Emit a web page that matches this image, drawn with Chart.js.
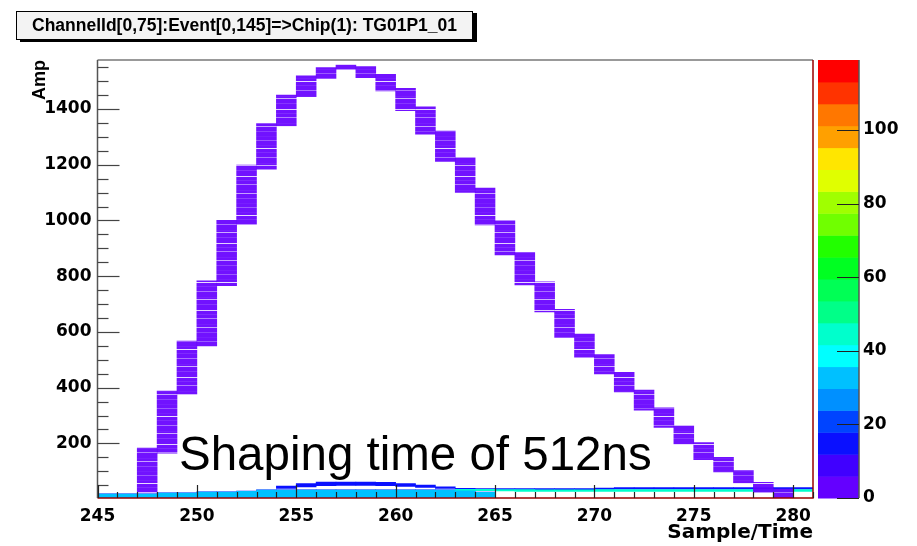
<!DOCTYPE html>
<html><head><meta charset="utf-8">
<script src="https://cdn.jsdelivr.net/npm/chart.js@4/dist/chart.umd.min.js"></script>
<style>
html,body{margin:0;padding:0;background:#fff;}
#wrap{position:relative;width:917px;height:546px;overflow:hidden;}
#title{position:absolute;left:16px;top:11px;width:455px;height:27px;border:1px solid #000;background:#f3f3f3;box-shadow:4px 2px 0 #000;font:bold 17.5px "Liberation Sans",Arial,sans-serif;text-align:center;line-height:27px;color:#000;white-space:nowrap;}
#note{position:absolute;left:179px;top:431px;font:47.5px "Liberation Sans",Arial,sans-serif;line-height:46px;color:#000;white-space:nowrap;}
</style></head>
<body><div id="wrap"><canvas id="c" width="917" height="546"></canvas>
<div id="title">ChannelId[0,75]:Event[0,145]=&gt;Chip(1): TG01P1_01</div>
<div id="note">Shaping time of 512ns</div></div>
<script>
// ---- data ----
const xBins = [245,246,247,248,249,250,251,252,253,254,255,256,257,258,259,260,261,262,263,264,265,266,267,268,269,270,271,272,273,274,275,276,277,278,279,280];
// signal channel band (amplitude range over events) per sample
const sigLo = [null,null,25,165,376,550,766,986,1184,1339,1444,1510,1543,1513,1465,1394,1310,1212,1101,984,876,769,672,580,509,449,385,319,257,196,142,98,56,24,4,null];
const sigHi = [null,null,183,388,567,783,1001,1199,1348,1450,1519,1549,1558,1552,1525,1474,1408,1321,1226,1116,999,885,780,681,592,519,455,391,328,263,203,150,102,60,36,null];
const sigCount = 2;
// baseline (other channels) layers
const lowLo  = [4,4,4,4,4,4,4,4,4,4,4,4,4,4,4,4,4,4,4,6,null,null,null,null,null,null,null,null,null,null,null,null,null,null,null,null];
const lowHi  = [18,18,18,22,22,25,25,28,32,32,32,32,32,32,32,32,32,32,30,24,null,null,null,null,null,null,null,null,null,null,null,null,null,null,null,null];
const lowCount = 30;
const cyanLo = [7,7,7,8,8,9,9,10,10,12,12,14,14,14,14,14,14,14,30,30,29,28,28,28,28,28,28,28,28,28,28,28,28,28,28,28];
const cyanHi = [12,12,12,13,13,14,14,15,16,18,18,20,20,20,20,20,20,20,35,35,34,34,33,33,33,34,34,34,34,34,34,34,34,34,34,34];
const cyanCount = 44;
const greenLo = [11,11,11,11,11,12,12,13,13,14,14,16,16,16,16,16,16,16,null,null,null,null,null,null,null,null,null,null,null,null,null,null,null,null,null,null];
const greenHi = [13,13,13,13,13,14,14,15,15,16,16,18,18,18,18,18,18,18,null,null,null,null,null,null,null,null,null,null,null,null,null,null,null,null,null,null];
const greenCount = 62;
const topLo = [16,16,16,20,20,23,23,26,29,29,29,29,29,29,29,29,29,29,27,20,null,null,null,null,null,null,null,null,null,null,null,null,null,null,null,null];
const topHi = [19,19,19,23,23,26,26,29,33,33,33,33,33,33,33,33,33,33,31,25,null,null,null,null,null,null,null,null,null,null,null,null,null,null,null,null];
const topCount = 14;
const upLo = [null,null,null,null,null,null,null,null,null,38,44,48,49,49,48,46,42,38,35,35,34,34,34,34,34,35,36,36,36,36,36,36,36,36,36,36];
const upHi = [null,null,null,null,null,null,null,null,null,47,56,61,61,61,60,56,50,44,39,38,38,38,38,38,38,40,41,41,41,41,41,41,41,41,41,41];
const upCount = 12;
const upCyanLo = [null,null,null,null,null,null,null,null,null,null,49,52,52,52,52,50,46,null,null,null,null,null,null,null,null,null,null,null,null,null,null,null,null,null,null,null];
const upCyanHi = [null,null,null,null,null,null,null,null,null,null,52,56,56,56,56,53,48,null,null,null,null,null,null,null,null,null,null,null,null,null,null,null,null,null,null,null];
const upCyanCount = 40;

const xMin = 245, xMax = 281;
const yMin = 4, yMax = 1576;
const zMin = 0, zMax = 119;
const xTicks = [245,250,255,260,265,270,275,280];
const yTicks = [200,400,600,800,1000,1200,1400];
const zTicks = [0,20,40,60,80,100];

// ---- styles ----
const palette = ['#6400ff','#4000ff','#0a10ff','#0044ff','#0090ff','#00c0ff','#00ffff','#00ffcc','#00ff88','#00ff55','#00ff22','#22ff00','#70ff00','#a0ff00','#e0ff00','#ffe600','#ffa000','#ff7700','#ff3300','#ff0000'];
function colorFor(count){ const n = palette.length; let k = Math.floor((count - zMin) / (zMax - zMin) * n); return palette[Math.max(0, Math.min(n - 1, k))]; }

function stripePattern(){
  const alphas = [1,1,0.95,1,1,1,0.7,1,1,1,1,0.95,1,1,0.15,1,1,1,0.9,1,1,1,1,0.6,1,1,1,1,1,0.95,1,0.35,1,1,1,1,0.85,1,1,1,1,1,0.2,1,1,1,0.9,1,1,1,0.55,1,1,1,1,1,0.95,1,1,0.4,1,1,1,1,0.8,1,1];
  const c = document.createElement('canvas'); c.width = 4; c.height = alphas.length;
  const g = c.getContext('2d');
  alphas.forEach((a, i) => { g.fillStyle = 'rgba(102,0,255,' + (a * 0.93) + ')'; g.fillRect(0, i, 4, 1); });
  return g.createPattern(c, 'repeat');
}

function band(lo, hi){
  const out = [];
  xBins.forEach((b, i) => { if (lo[i] != null && hi[i] != null) out.push({x: b + 0.5, y: [lo[i], hi[i]]}); });
  return out;
}

const ds = (label, lo, hi, count, bg) => ({
  label, data: band(lo, hi), backgroundColor: bg || colorFor(count), borderWidth: 0,
  grouped: false, barPercentage: 1, categoryPercentage: 1
});

const frame = {
  id: 'frame',
  afterDraw(chart){
    const ctx = chart.ctx, a = chart.chartArea, x = chart.scales.x, y = chart.scales.y, z = chart.scales.z;
    ctx.save();
    // palette bar
    const pl = 818, pr = 859, n = palette.length;
    for (let i = 0; i < n; i++){
      const v0 = zMin + (zMax - zMin) * i / n, v1 = zMin + (zMax - zMin) * (i + 1) / n;
      const p0 = z.getPixelForValue(v0), p1 = z.getPixelForValue(v1);
      ctx.fillStyle = palette[i]; ctx.fillRect(pl, p1, pr - pl, p0 - p1 + 0.5);
    }
    ctx.strokeStyle = '#555'; ctx.lineWidth = 1.5;
    ctx.beginPath(); ctx.moveTo(pr, a.top); ctx.lineTo(pr, a.bottom); ctx.stroke();
    ctx.strokeStyle = '#222'; ctx.lineWidth = 1;
    zTicks.forEach(v => { const p = Math.round(z.getPixelForValue(v)) + 0.5; ctx.beginPath(); ctx.moveTo(pr, p); ctx.lineTo(pr - 22, p); ctx.stroke(); });
    // frame
    ctx.lineWidth = 1.5;
    ctx.strokeStyle = '#777';
    ctx.beginPath(); ctx.moveTo(a.left, a.top); ctx.lineTo(a.right, a.top); ctx.stroke();
    ctx.strokeStyle = '#990000';
    ctx.beginPath(); ctx.moveTo(a.right, a.top); ctx.lineTo(a.right, a.bottom); ctx.lineTo(a.left, a.bottom); ctx.stroke();
    ctx.strokeStyle = '#555';
    ctx.beginPath(); ctx.moveTo(a.left, a.top); ctx.lineTo(a.left, a.bottom); ctx.stroke();
    // y ticks
    ctx.lineWidth = 1.2; ctx.strokeStyle = '#444';
    for (let v = 50; v < yMax; v += 50){
      if (v < yMin) continue;
      const p = Math.round(y.getPixelForValue(v)) + 0.5, len = (v % 200 === 0) ? 22 : 11;
      ctx.beginPath(); ctx.moveTo(a.left, p); ctx.lineTo(a.left + len, p); ctx.stroke();
    }
    // x ticks
    ctx.strokeStyle = '#222';
    for (let v = xMin; v <= xMax; v += 1){
      const p = Math.round(x.getPixelForValue(v)) + 0.5, len = (v % 5 === 0) ? 13 : 6;
      ctx.beginPath(); ctx.moveTo(p, a.bottom); ctx.lineTo(p, a.bottom - len); ctx.stroke();
    }
    ctx.restore();
  }
};

const tickFont = {family: '"DejaVu Sans", sans-serif', weight: 'bold', size: 17};
const plain = v => String(v);
const noPad = s => { s.paddingTop = 0; s.paddingBottom = 0; s.paddingLeft = 0; s.paddingRight = 0; };

new Chart(document.getElementById('c'), {
  type: 'bar',
  data: { datasets: [
    ds('signal', sigLo, sigHi, sigCount, stripePattern()),
    ds('baseline low', lowLo, lowHi, lowCount),
    ds('baseline cyan', cyanLo, cyanHi, cyanCount),
    ds('baseline green', greenLo, greenHi, greenCount),
    ds('baseline top', topLo, topHi, topCount),
    ds('crosstalk', upLo, upHi, upCount),
    ds('crosstalk cyan', upCyanLo, upCyanHi, upCyanCount)
  ]},
  options: {
    responsive: false, animation: false, devicePixelRatio: 1,
    layout: { autoPadding: false, padding: { top: 60, left: 0, right: 0, bottom: 0 } },
    plugins: { legend: { display: false }, tooltip: { enabled: false }, title: { display: false } },
    scales: {
      x: { type: 'linear', min: xMin, max: xMax, offset: false,
        grid: { display: false, drawTicks: false, offset: false }, border: { display: false },
        afterBuildTicks: s => { s.ticks = xTicks.map(v => ({value: v})); },
        afterFit: s => { s.height = 48; noPad(s); },
        ticks: { font: tickFont, color: '#000', padding: 8, maxRotation: 0, autoSkip: false, callback: plain },
        title: { display: true, text: 'Sample/Time', align: 'end', color: '#000', padding: {top: 0, bottom: 1},
          font: {family: '"DejaVu Sans", sans-serif', weight: 'bold', size: 20} } },
      y: { type: 'linear', min: yMin, max: yMax,
        grid: { display: false, drawTicks: false }, border: { display: false },
        afterBuildTicks: s => { s.ticks = yTicks.map(v => ({value: v})); },
        afterFit: s => { s.width = 97.5; noPad(s); },
        ticks: { font: tickFont, color: '#000', padding: 6, callback: plain },
        title: { display: true, text: 'Amp', align: 'end', color: '#000', padding: {top: 29, bottom: 0},
          font: {family: '"Liberation Sans", Arial, sans-serif', weight: 'bold', size: 18} } },
      z: { type: 'linear', position: 'right', min: zMin, max: zMax,
        grid: { display: false, drawTicks: false }, border: { display: false },
        afterBuildTicks: s => { s.ticks = zTicks.map(v => ({value: v})); },
        afterFit: s => { s.width = 104; noPad(s); },
        ticks: { font: tickFont, color: '#000', padding: 50, callback: plain } }
    }
  },
  plugins: [frame]
});
</script>
</body></html>
